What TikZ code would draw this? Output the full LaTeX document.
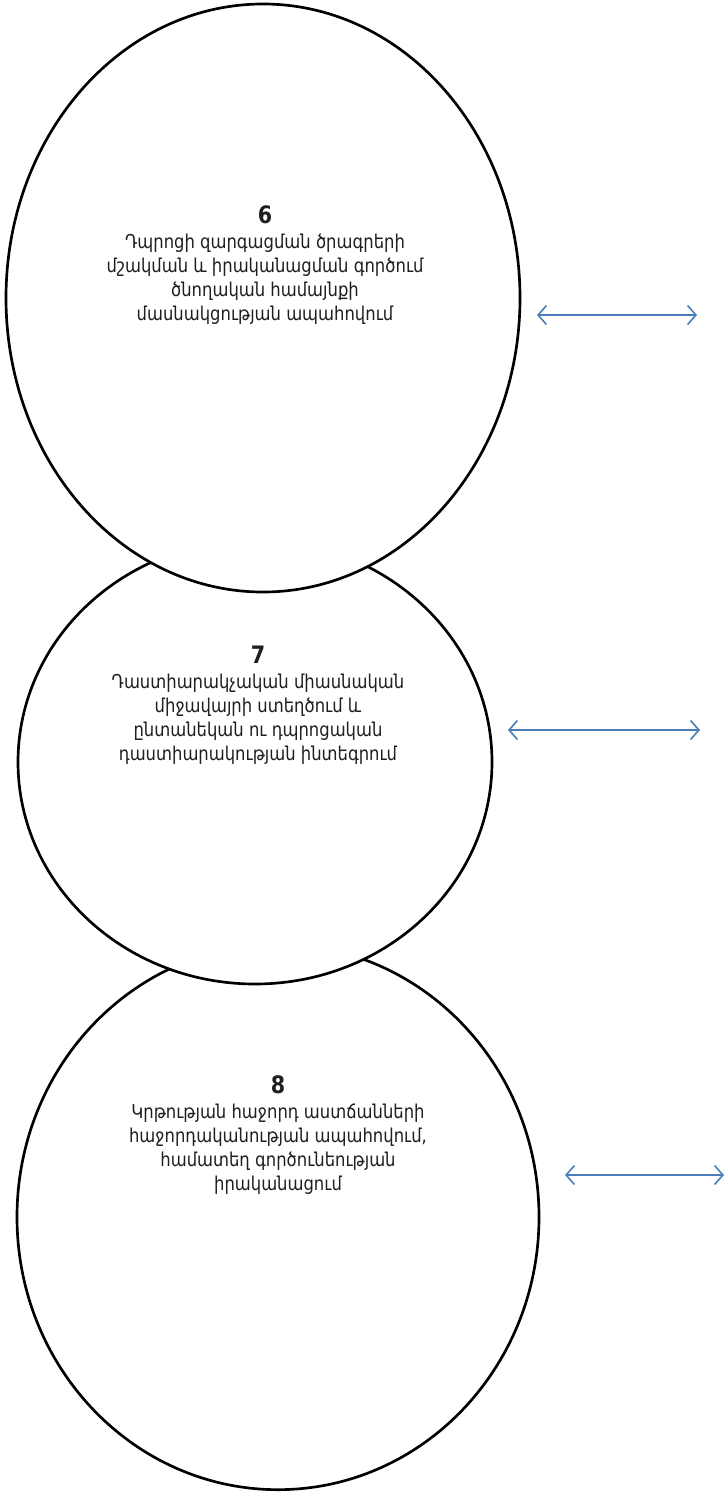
\documentclass[tikz,border=0pt]{standalone}
\usepackage{fontspec}
\newfontfamily\armfont[FakeStretch=0.86]{DejaVu Sans}
\usepackage{tikz}
\usetikzlibrary{arrows.meta,shapes.geometric}
\definecolor{pairblue}{HTML}{4A7EBB}

\begin{document}
\begin{tikzpicture}[x=0.75pt, y=-0.75pt,
	bubble/.style={ellipse, draw, fill=white, line width=2pt, inner sep=0pt},
	label/.style={align=center, text=black!88, font=\armfont\fontsize{14.3}{18}\selectfont},
	pair/.style={draw=pairblue, line width=1.2pt, {Straight Barb[length=2.2mm,width=5mm]}-{Straight Barb[length=2.2mm,width=5mm]}}]
	\useasboundingbox[fill=white] (0,0) rectangle (725,1495);
	\node[bubble, minimum width=391.5pt, minimum height=409pt] (c8) at (278,1217) {};
	\node[bubble, minimum width=355.5pt, minimum height=333pt] (c7) at (255,762) {};
	\node[bubble, minimum width=385.5pt, minimum height=441pt] (c6) at (263,298) {};
	\node[label, anchor=north] (t6) at (265,201) {{\bfseries\fontsize{18}{20}\selectfont 6}\\[1pt]
		Դպրոցի զարգացման ծրագրերի\\
		մշակման և իրականացման գործում\\
		ծնողական համայնքի\\
		մասնակցության ապահովում};
	\node[label, anchor=north] (t7) at (258,641) {{\bfseries\fontsize{18}{20}\selectfont 7}\\[1pt]
		Դաստիարակչական միասնական\\
		միջավայրի ստեղծում և\\
		ընտանեկան ու դպրոցական\\
		դաստիարակության ինտեգրում};
	\node[label, anchor=north] (t8) at (278,1071) {{\bfseries\fontsize{18}{20}\selectfont 8}\\[1pt]
		Կրթության հաջորդ աստճանների\\
		հաջորդականության ապահովում,\\
		համատեղ գործունեության\\
		իրականացում};
	\coordinate (a6l) at (537,315);
	\coordinate (a6r) at (697,315);
	\coordinate (a7l) at (508,730);
	\coordinate (a7r) at (700,730);
	\coordinate (a8l) at (565,1175);
	\coordinate (a8r) at (724,1175);
	\draw[pair] (a6l) -- (a6r);
	\draw[pair] (a7l) -- (a7r);
	\draw[pair] (a8l) -- (a8r);
\end{tikzpicture}
\end{document}
